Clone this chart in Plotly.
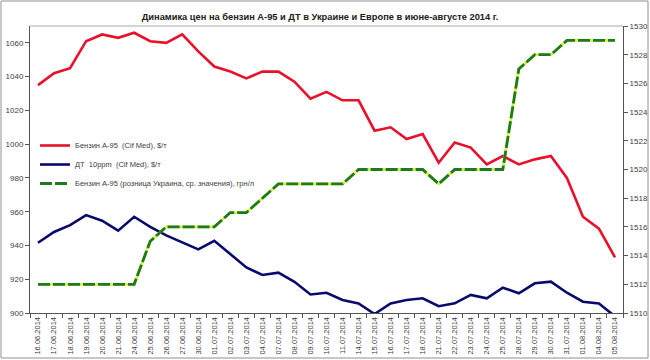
import plotly.graph_objects as go

dates = ["16.06.2014", "17.06.2014", "18.06.2014", "19.06.2014", "20.06.2014", "21.06.2014",
         "24.06.2014", "25.06.2014", "26.06.2014", "27.06.2014", "30.06.2014", "01.07.2014",
         "02.07.2014", "03.07.2014", "04.07.2014", "07.07.2014", "08.07.2014", "09.07.2014",
         "10.07.2014", "11.07.2014", "14.07.2014", "15.07.2014", "16.07.2014", "17.07.2014",
         "18.07.2014", "21.07.2014", "22.07.2014", "23.07.2014", "24.07.2014", "25.07.2014",
         "28.07.2014", "29.07.2014", "30.07.2014", "31.07.2014", "01.08.2014", "04.08.2014",
         "05.08.2014"]

a95_cif = [1035, 1042, 1045, 1061, 1065, 1063, 1066, 1061, 1060, 1065, 1055, 1046,
           1043, 1039, 1043, 1043, 1037, 1027, 1031, 1026, 1026, 1008, 1010, 1003,
           1006, 989, 1001, 998, 988, 993, 988, 991, 993, 980, 957, 950, 933]

dt_cif = [941.6, 948, 952, 958, 954.7, 948.8, 957, 951, 946, 941.7, 937.7, 942.8,
          935, 927, 922.5, 923.9, 918.5, 911, 912, 907.7, 905.7, 899.4, 905.7, 907.7,
          908.7, 904, 905.7, 910.7, 908.7, 915, 911.7, 917.6, 918.6, 912, 906.7, 905.7,
          898]

a95_retail = [1512, 1512, 1512, 1512, 1512, 1512, 1512, 1515, 1516, 1516, 1516, 1516,
              1517, 1517, 1518, 1519, 1519, 1519, 1519, 1519, 1520, 1520, 1520, 1520,
              1520, 1519, 1520, 1520, 1520, 1520, 1527, 1528, 1528, 1529, 1529, 1529,
              1529]

names = ["Бензин А-95  (Cif Med), $/т", "ДТ  10ppm  (Cif Med), $/т",
         "Бензин А-95 (розница Украина, ср. значения), грн/л"]

L, R, T, B = 30, 27, 26, 47
W, H = 650, 360
pw, ph = W - L - R, H - T - B

fig = go.Figure()
fig.add_trace(go.Scatter(x=dates, y=a95_cif, mode="lines", name=names[0],
                         line=dict(color="#e8102a", width=2.6)))
fig.add_trace(go.Scatter(x=dates, y=dt_cif, mode="lines", name=names[1],
                         line=dict(color="#0a0a6e", width=2.6)))
fig.add_trace(go.Scatter(x=dates, y=a95_retail, mode="lines", yaxis="y2",
                         showlegend=False, hoverinfo="skip",
                         line=dict(color="#d8f040", width=2.8)))
fig.add_trace(go.Scatter(x=dates, y=a95_retail, mode="lines", yaxis="y2", name=names[2],
                         line=dict(color="#1e7a1e", width=2.8, dash="12px,3px")))

tickfont = dict(family="Liberation Sans, Arial, sans-serif", size=8, color="#404040")
xtickfont = dict(family="Liberation Sans, Arial, sans-serif", size=7.5, color="#404040")

def px_x(x):
    return (x - L) / pw

def px_y(y):
    return (H - B - y) / ph

fig.update_layout(
    width=W, height=H,
    margin=dict(l=L, r=R, t=T, b=B, autoexpand=False),
    paper_bgcolor="white", plot_bgcolor="white",
    title=dict(text="<b>Динамика цен на бензин А-95 и ДТ в Украине и Европе в июне-августе 2014 г.</b>",
               x=320 / W, xanchor="center", y=1 - 17 / H, yanchor="middle",
               font=dict(family="Liberation Sans, Arial, sans-serif", size=9.3, color="#202020")),
    xaxis=dict(type="category", range=[-0.5, len(dates) - 0.5], tickangle=-90,
               tickson="boundaries", ticks="outside", ticklen=4, tickcolor="#555",
               showline=True, linecolor="#555", linewidth=1, showgrid=False,
               tickfont=xtickfont, zeroline=False, automargin=False),
    yaxis=dict(range=[900, 1070], dtick=20, tick0=900, ticks="outside", ticklen=4,
               tickcolor="#555", showline=True, linecolor="#555", linewidth=1,
               showgrid=False, zeroline=False, tickfont=tickfont, automargin=False),
    yaxis2=dict(range=[1510, 1530], dtick=2, tick0=1510, overlaying="y", side="right",
                ticks="outside", ticklen=4, tickcolor="#555", showline=True,
                linecolor="#555", linewidth=1, showgrid=False, zeroline=False,
                tickfont=tickfont, automargin=False),
    legend=dict(x=px_x(35), y=px_y(131), xanchor="left", yanchor="top",
                bgcolor="rgba(0,0,0,0)", itemwidth=30, tracegroupgap=0,
                font=dict(family="Liberation Sans, Arial, sans-serif", size=7.5, color="#404040")),
    showlegend=True,
    shapes=[
        dict(type="line", xref="paper", yref="paper", x0=0, x1=1, y0=1, y1=1,
             line=dict(color="#a8a8a8", width=1)),
        dict(type="rect", xref="paper", yref="paper", x0=px_x(1), x1=px_x(648),
             y0=px_y(358), y1=px_y(1), line=dict(color="#909090", width=1)),
    ],
)

fig.write_html("out.html", config={"displayModeBar": False},
               post_script="document.body.style.margin='0';document.body.style.overflow='hidden';")
